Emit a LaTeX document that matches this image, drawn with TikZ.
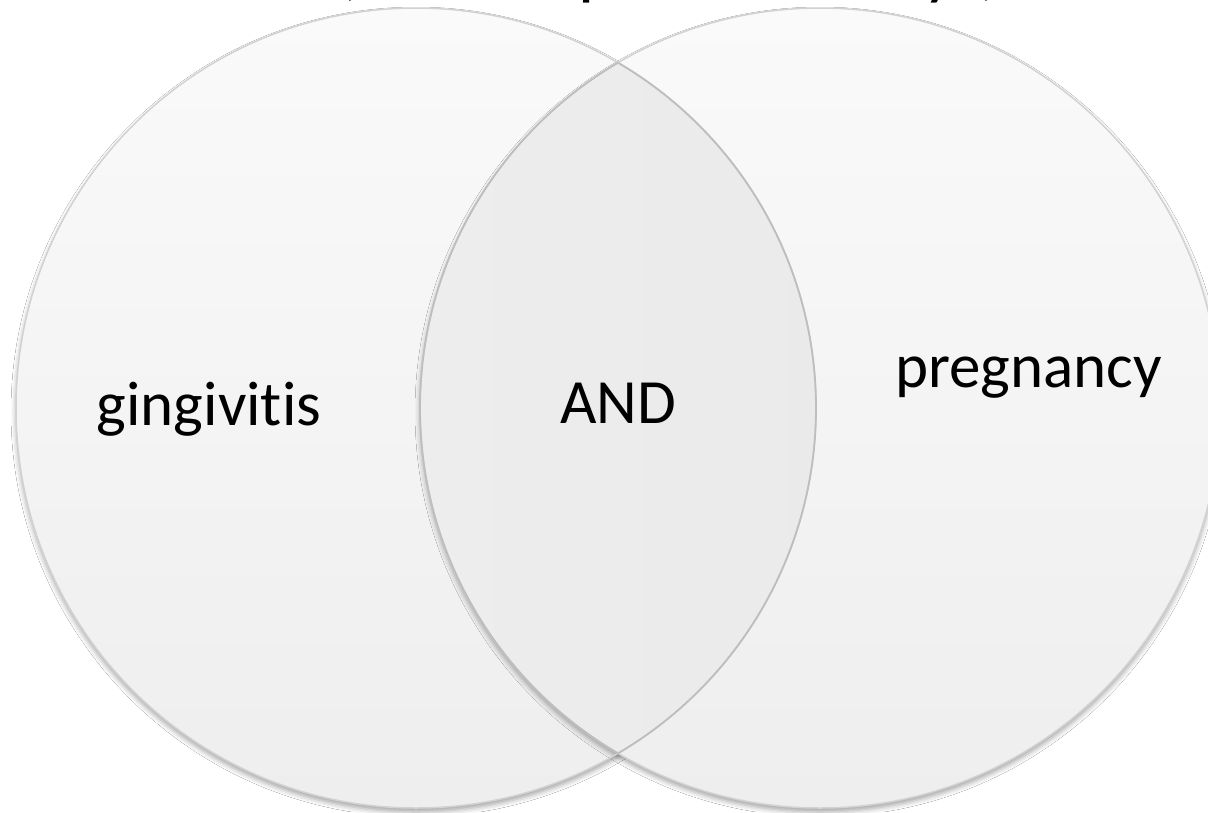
\documentclass[tikz,border=0pt]{standalone}
\usepackage{fontspec}
\setmainfont{Carlito}[Ligatures=NoCommon]
\usetikzlibrary{shadows.blur}
\definecolor{ringline}{HTML}{D2D2D2}
\definecolor{lensline}{HTML}{BEBEBE}
\definecolor{filltop}{HTML}{FAFAFA}
\definecolor{fillbot}{HTML}{EEEEEE}
\definecolor{lenstop}{HTML}{EDEDED}
\definecolor{lensbot}{HTML}{E4E4E4}
\tikzset{
  setdisc/.style={top color=filltop, bottom color=fillbot, draw=none,
    blur shadow={shadow xshift=0pt, shadow yshift=-4pt, shadow blur radius=5pt, shadow opacity=35}},
  label/.style={inner sep=0pt, font=\fontsize{63}{70}\selectfont, text=black},
  titlefrag/.style={inner sep=0pt, anchor=base, font=\fontsize{72}{80}\selectfont, text=black}
}
\begin{document}
\begin{tikzpicture}[x=1pt,y=-1pt]
\useasboundingbox (0,0) rectangle (1208,812);
\fill[white] (0,0) rectangle (1208,812);
\coordinate (L) at (416,408);
\coordinate (R) at (820,408);
% discs
\path[setdisc] (L) circle (400pt);
\path[setdisc] (R) circle (400pt);
% lens
\begin{scope}
  \clip (L) circle (400pt);
  \fill[left color=lenstop, right color=lensbot, middle color=lenstop!70!lensbot] (R) circle (400pt);
\end{scope}
% outlines
\draw[ringline, line width=1.5pt] (L) circle (400pt);
\draw[ringline, line width=1.5pt] (R) circle (400pt);
\begin{scope}
  \clip (L) circle (400pt);
  \draw[lensline, line width=1.8pt] (R) circle (400pt);
\end{scope}
\begin{scope}
  \clip (R) circle (400pt);
  \draw[lensline, line width=1.8pt] (L) circle (400pt);
\end{scope}
% labels
\node[label, anchor=base] (ging) at (209,425) {gingivitis};
\node[label, anchor=base] (and) at (618,423) {AND};
\node[label, anchor=base east] (preg) at (1162,387) {pregnancy};
% cut-off title fragments
\node[titlefrag] (t1) at (346,-9) {(};
\node[titlefrag] (t2) at (597,-9) {p};
\node[titlefrag] (t3) at (940,-9) {y};
\node[titlefrag] (t4) at (990,-9) {)};
\end{tikzpicture}
\end{document}
